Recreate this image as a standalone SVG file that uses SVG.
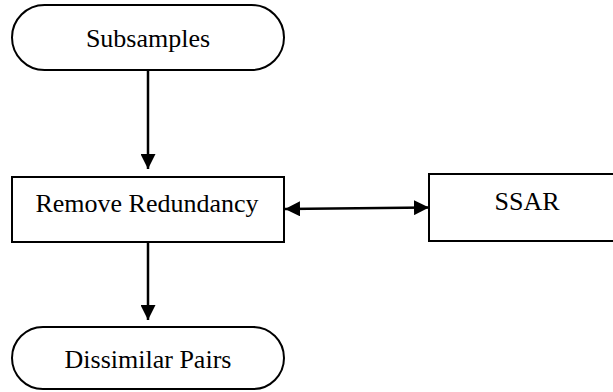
<svg xmlns="http://www.w3.org/2000/svg" width="613" height="392" viewBox="0 0 613 392">
  <style>
    .shape { fill: #ffffff; stroke: #000000; stroke-width: 2; }
    .label { font-family: "Liberation Serif", "Times New Roman", serif; font-size: 26px; fill: #000000; text-anchor: middle; }
    .conn { stroke: #000000; stroke-width: 2.5; fill: none; }
  </style>
  <defs>
    <marker id="head" viewBox="0 0 10 10" refX="10" refY="5" markerWidth="6" markerHeight="6" markerUnits="strokeWidth" orient="auto-start-reverse">
      <path d="M0,0 L10,5 L0,10 Z" fill="#000000"/>
    </marker>
  </defs>

  <rect x="0" y="0" width="613" height="392" fill="#ffffff"/>

  <g id="connectors">
    <line class="conn" x1="148" y1="70" x2="148" y2="169" marker-end="url(#head)"/>
    <line class="conn" x1="285" y1="209" x2="429" y2="207.5" marker-start="url(#head)" marker-end="url(#head)"/>
    <line class="conn" x1="148" y1="242" x2="148" y2="320" marker-end="url(#head)"/>
  </g>

  <g id="subsamples">
    <rect class="shape" x="12" y="5" width="272" height="65" rx="32.5" ry="32.5"/>
    <text class="label" x="148" y="47">Subsamples</text>
  </g>

  <g id="remove-redundancy">
    <rect class="shape" x="12" y="177" width="272" height="65"/>
    <text class="label" x="147" y="212">Remove Redundancy</text>
  </g>

  <g id="ssar">
    <rect class="shape" x="429" y="174" width="200" height="67"/>
    <text class="label" x="527" y="210">SSAR</text>
  </g>

  <g id="dissimilar-pairs">
    <rect class="shape" x="12" y="327" width="272" height="62" rx="31" ry="31"/>
    <text class="label" x="148" y="368">Dissimilar Pairs</text>
  </g>
</svg>
